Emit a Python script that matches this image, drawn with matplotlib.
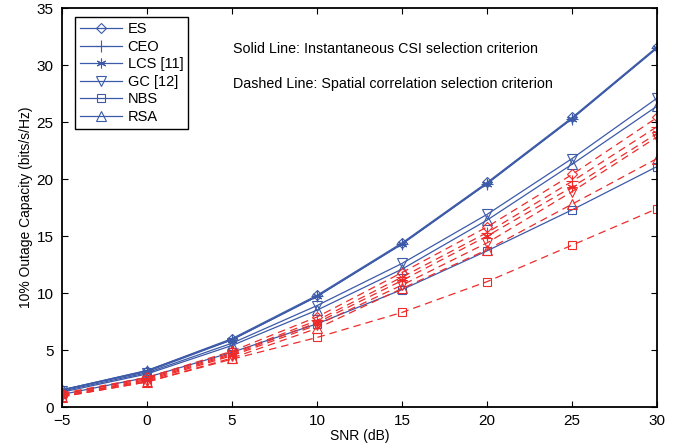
import numpy as np
import matplotlib.pyplot as plt

plt.rcParams['font.family'] = ['Liberation Sans', 'DejaVu Sans']

snr = [-5, 0, 5, 10, 15, 20, 25, 30]

# solid: instantaneous CSI selection
es = [1.5, 3.2, 6.0, 9.8, 14.4, 19.7, 25.4, 31.6]
ceo = [1.5, 3.2, 5.9, 9.7, 14.3, 19.6, 25.3, 31.5]
lcs = [1.5, 3.1, 5.9, 9.7, 14.3, 19.6, 25.3, 31.5]
gc = [1.4, 3.0, 5.6, 8.9, 12.6, 16.9, 21.8, 27.1]
nbs = [1.1, 2.6, 4.8, 7.3, 10.3, 13.7, 17.3, 21.1]
rsa = [1.3, 2.9, 5.4, 8.5, 12.1, 16.4, 21.3, 26.4]

# dashed: spatial correlation selection
es_d = [1.2, 2.6, 4.9, 7.9, 11.8, 15.8, 20.4, 25.4]
ceo_d = [1.1, 2.5, 4.7, 7.6, 11.4, 15.3, 19.8, 24.6]
lcs_d = [1.0, 2.4, 4.6, 7.4, 11.1, 15.0, 19.3, 24.0]
gc_d = [1.0, 2.3, 4.5, 7.2, 10.7, 14.4, 18.9, 23.7]
nbs_d = [0.9, 2.2, 4.2, 6.1, 8.3, 11.0, 14.2, 17.4]
rsa_d = [0.9, 2.2, 4.3, 6.9, 10.4, 13.8, 17.8, 21.8]

names = ["ES", "CEO", "LCS [11]", "GC [12]", "NBS", "RSA"]
markers = ["D", "+", (6, 2, 0), "v", "s", "^"]
sizes = [5.5, 8, 7, 7, 6, 7]
solid = [es, ceo, lcs, gc, nbs, rsa]
dashed = [es_d, ceo_d, lcs_d, gc_d, nbs_d, rsa_d]

blue = "#3c5aa8"
red = "#ee2b2b"

fig = plt.figure(figsize=(6.74, 4.48), dpi=100)
ax = fig.add_axes([0.092, 0.0915, 0.883, 0.8905])

for y, m, ms, n in zip(solid, markers, sizes, names):
    ax.plot(snr, y, color=blue, linewidth=0.9, marker=m, markersize=ms,
            markerfacecolor="none", markeredgecolor=blue, markeredgewidth=0.8, label=n)
for y, m, ms in zip(dashed, markers, sizes):
    ax.plot(snr, y, color=red, linewidth=0.9, linestyle=(0, (6, 4)), marker=m, markersize=ms,
            markerfacecolor="none", markeredgecolor=red, markeredgewidth=0.8)

ax.set_xlim(-5, 30)
ax.set_ylim(0, 35)
ax.set_xticks(snr)
ax.set_yticks(range(0, 36, 5))
ax.tick_params(direction="in", labelsize=11, top=True, right=True, length=4)
ax.tick_params(axis="x", pad=5)
ax.tick_params(axis="y", pad=6)
for s in ax.spines.values():
    s.set_linewidth(1.3)
ax.set_xlabel("SNR (dB)", fontsize=10, labelpad=1)
ax.set_ylabel("10% Outage Capacity (bits/s/Hz)", fontsize=10, labelpad=3)

ax.text(5.06, 31.4, "Solid Line: Instantaneous CSI selection criterion", fontsize=10.3, va="center")
ax.text(5.06, 28.3, "Dashed Line: Spatial correlation selection criterion", fontsize=10.3, va="center")

leg = ax.legend(loc="upper left", bbox_to_anchor=(0.022, 0.977), fancybox=False, framealpha=1,
                edgecolor="black", fontsize=10.5, handlelength=2.9, labelspacing=0.24,
                borderpad=0.35, handletextpad=0.35, borderaxespad=0)
leg.get_frame().set_linewidth(1.0)

fig.savefig("out.png")
